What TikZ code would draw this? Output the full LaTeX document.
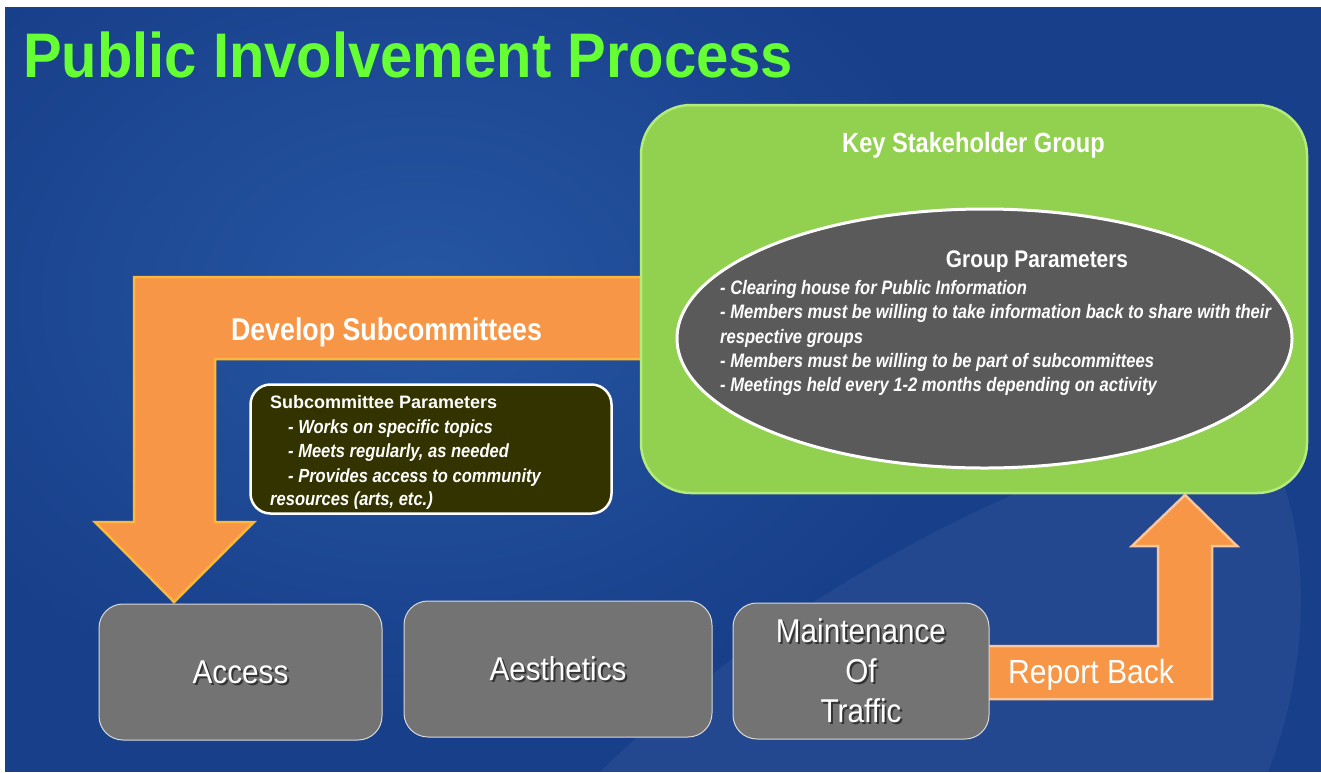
\documentclass[tikz,border=0pt]{standalone}
\usepackage{fontspec}
\usetikzlibrary{shapes.geometric}
\setmainfont{Liberation Sans}
\newfontfamily\narrowf[FakeStretch=0.85]{Liberation Sans}
\newfontfamily\midf[FakeStretch=0.87]{Liberation Sans}
\newfontfamily\lightf[FakeStretch=0.9]{Liberation Sans}
\newfontfamily\titlef[FakeStretch=0.92]{Liberation Sans}
\newcommand{\myfs}[1]{\fontsize{#1}{#1}\selectfont}
\definecolor{bgblue}{HTML}{183F8A}
\definecolor{bglight}{HTML}{2656A2}
\definecolor{titlegreen}{HTML}{66FF33}
\definecolor{boxgreen}{HTML}{92D050}
\definecolor{boxgreenrim}{HTML}{B4EC7C}
\definecolor{ellgray}{HTML}{5A5A5A}
\definecolor{subolive}{HTML}{333300}
\definecolor{arroworange}{HTML}{F79646}
\definecolor{arrowyellow}{HTML}{FDB73A}
\definecolor{arrowpeach}{HTML}{FBC59A}
\definecolor{topicgray}{HTML}{737373}
\tikzset{
  topicbox/.style={draw=white!85!black, line width=1pt, fill=topicgray, rounded corners=24pt, inner sep=0pt},
  topiclabel/.style={text=white, font=\lightf\myfs{33}, align=center, inner sep=0pt},
  topicshadow/.style={text=black, opacity=0.55, font=\lightf\myfs{33}, align=center, inner sep=0pt},
  ellitem/.style={anchor=base west, inner sep=0pt, text=white, font=\narrowf\bfseries\itshape\myfs{19.5}},
  subitem/.style={anchor=base west, inner sep=0pt, text=white, font=\midf\bfseries\itshape\myfs{19}},
  blockarrow/.style={fill=arroworange, line width=2.5pt, line join=miter}
}
\begin{document}
\begin{tikzpicture}[x=1pt,y=-1pt]
\useasboundingbox (0,0) rectangle (1321,772);
\fill[white] (0,0) rectangle (1321,772);
% background
\begin{scope}
\clip (5,7) rectangle (1321,772);
\fill[bgblue] (5,7) rectangle (1321,772);
\shade[inner color=bglight, outer color=bgblue] (420,300) ellipse [x radius=560, y radius=420];
\fill[white, opacity=0.05] (600,772) .. controls (820,560) and (1050,470) .. (1240,410) .. controls (1310,480) and (1320,640) .. (1268,772) -- cycle;
\end{scope}
% title
\node[anchor=base west, inner sep=0pt, text=titlegreen, font=\titlef\bfseries\myfs{63}] (title) at (23,77) {Public Involvement Process};
% develop subcommittees arrow
\draw[blockarrow, draw=arrowyellow] (641,277) -- (134,277) -- (134,522) -- (95,522) -- (174,602) -- (254,522) -- (215,522) -- (215,359) -- (641,359) -- cycle;
% key stakeholder group
\node[fill=boxgreen, draw=boxgreenrim, line width=2.5pt, rounded corners=50pt, minimum width=666pt, minimum height=388pt, inner sep=0pt] (ksg) at (974,299) {};
\node[ellipse, fill=ellgray, draw=white, line width=3pt, minimum width=615pt, minimum height=259pt, inner sep=0pt] (gp) at (984.5,338.5) {};
% report back arrow
\draw[blockarrow, draw=arrowpeach] (985,646) -- (1158,646) -- (1158,546) -- (1132,546) -- (1185,495) -- (1237,546) -- (1212,546) -- (1212,699) -- (985,699) -- cycle;
% subcommittee parameters box
\node[fill=subolive, draw=white, line width=2.5pt, rounded corners=20pt, minimum width=361pt, minimum height=129pt, inner sep=0pt] (sp) at (431,449) {};
% topic boxes
\node[topicbox, minimum width=283pt, minimum height=136pt] (access) at (240.5,672) {};
\node[topicbox, minimum width=308pt, minimum height=136pt] (aest) at (558,669) {};
\node[topicbox, minimum width=256pt, minimum height=136pt] (mot) at (861,671) {};
% texts
\node[anchor=base, inner sep=0pt, text=white, font=\narrowf\bfseries\myfs{27.8}] (ksgt) at (973.5,152) {Key Stakeholder Group};
\node[anchor=base, inner sep=0pt, text=white, font=\midf\bfseries\myfs{24}] (gpt) at (1037,267) {Group Parameters};
\node[ellitem] (g1) at (720,294) {- Clearing house for Public Information};
\node[ellitem] (g2) at (720,318) {- Members must be willing to take information back to share with their};
\node[ellitem] (g3) at (720,343) {respective groups};
\node[ellitem] (g4) at (720,367) {- Members must be willing to be part of subcommittees};
\node[ellitem] (g5) at (720,391) {- Meetings held every 1-2 months depending on activity};
\node[anchor=base, inner sep=0pt, text=white, font=\narrowf\bfseries\myfs{31.5}] (dst) at (386.5,340) {Develop Subcommittees};
\node[anchor=base west, inner sep=0pt, text=white, font=\bfseries\myfs{18}] (spt) at (270,408) {Subcommittee Parameters};
\node[subitem] (s1) at (288,433) {- Works on specific topics};
\node[subitem] (s2) at (288,457) {- Meets regularly, as needed};
\node[subitem] (s3) at (288,482) {- Provides access to community};
\node[subitem] (s4) at (270,505) {resources (arts, etc.)};
\node[anchor=base west, inner sep=0pt, text=white, font=\lightf\myfs{33.5}] (rbt) at (1008,683) {Report Back};
% topic labels with shadows
\node[topicshadow] at ([shift={(2,2)}]access.center) {Access};
\node[topiclabel] (accesst) at (access.center) {Access};
\node[topicshadow] at ([shift={(2,2)}]aest.center) {Aesthetics};
\node[topiclabel] (aestt) at (aest.center) {Aesthetics};
\node[topicshadow, text width=240pt, font=\lightf\fontsize{33}{40}\selectfont] at ([shift={(2,2)}]mot.center) {Maintenance\\Of\\Traffic};
\node[topiclabel, text width=240pt, font=\lightf\fontsize{33}{40}\selectfont] (mott) at (mot.center) {Maintenance\\Of\\Traffic};
\end{tikzpicture}
\end{document}
